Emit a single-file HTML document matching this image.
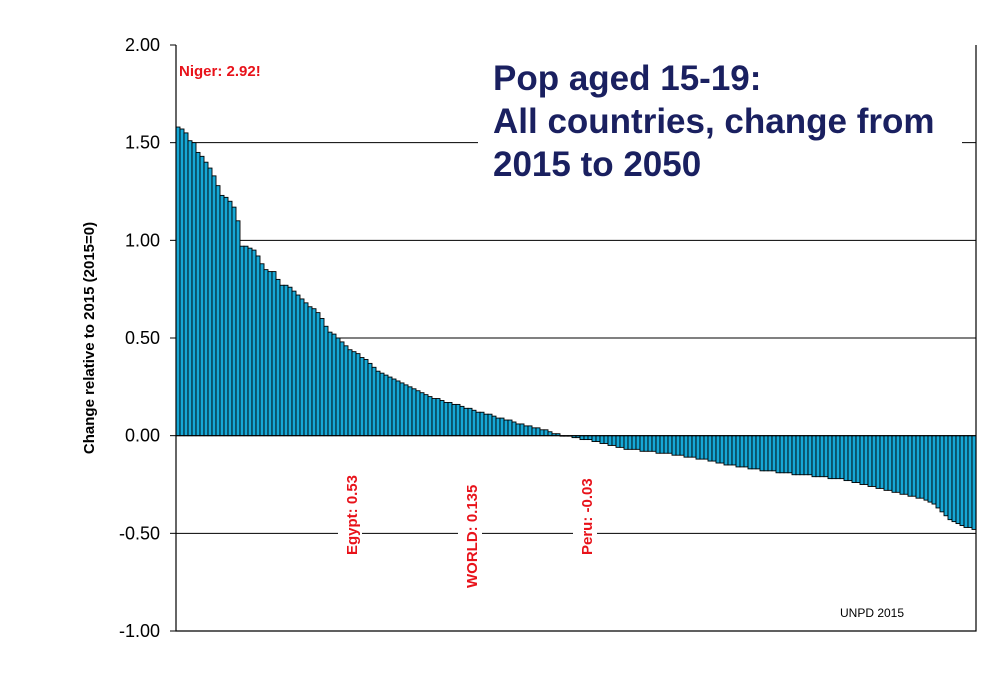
<!DOCTYPE html>
<html><head><meta charset="utf-8"><style>
body{margin:0;background:#fff;font-family:"Liberation Sans",sans-serif}
</style></head><body>
<svg width="1000" height="677" xmlns="http://www.w3.org/2000/svg">
<g id="grid"></g>
<g id="bars"></g>
<g id="axes"></g>
<g id="labels"></g>
</svg>
<script>
const values=[1.58,1.57,1.55,1.51,1.50,1.45,1.43,1.40,1.37,1.33,1.28,1.23,1.22,1.20,1.17,1.10,0.97,0.97,0.96,0.95,0.92,0.88,0.85,0.84,0.84,0.80,0.77,0.77,0.76,0.74,0.72,0.70,0.68,0.66,0.65,0.63,0.60,0.56,0.53,0.52,0.50,0.48,0.46,0.44,0.43,0.42,0.40,0.39,0.37,0.35,0.33,0.32,0.31,0.30,0.29,0.28,0.27,0.26,0.25,0.24,0.23,0.22,0.21,0.20,0.19,0.19,0.18,0.17,0.17,0.16,0.16,0.15,0.14,0.14,0.13,0.12,0.12,0.11,0.11,0.10,0.09,0.09,0.08,0.08,0.07,0.06,0.06,0.05,0.05,0.04,0.04,0.03,0.03,0.02,0.01,0.01,0.00,0.00,0.00,-0.01,-0.01,-0.02,-0.02,-0.02,-0.03,-0.03,-0.04,-0.04,-0.05,-0.05,-0.06,-0.06,-0.07,-0.07,-0.07,-0.07,-0.08,-0.08,-0.08,-0.08,-0.09,-0.09,-0.09,-0.09,-0.10,-0.10,-0.10,-0.11,-0.11,-0.11,-0.12,-0.12,-0.12,-0.13,-0.13,-0.14,-0.14,-0.15,-0.15,-0.15,-0.16,-0.16,-0.16,-0.17,-0.17,-0.17,-0.18,-0.18,-0.18,-0.18,-0.19,-0.19,-0.19,-0.19,-0.20,-0.20,-0.20,-0.20,-0.20,-0.21,-0.21,-0.21,-0.21,-0.22,-0.22,-0.22,-0.22,-0.23,-0.23,-0.24,-0.24,-0.25,-0.25,-0.26,-0.26,-0.27,-0.27,-0.28,-0.28,-0.29,-0.29,-0.30,-0.30,-0.31,-0.31,-0.32,-0.32,-0.33,-0.34,-0.35,-0.37,-0.39,-0.41,-0.43,-0.44,-0.45,-0.46,-0.47,-0.47,-0.48];
const yTicks=[2.00,1.50,1.00,0.50,0.00,-0.50,-1.00];
const gridLines=[1.5,1.0,0.5,-0.5];
const NS="http://www.w3.org/2000/svg";
const X0=176,X1=976,Y2=45,Ym1=631;
const y=v=>Y2+(2-v)*(Ym1-Y2)/3;
const bw=(X1-X0)/values.length;
const x=i=>X0+i*bw;
function mk(t,a,p){const e=document.createElementNS(NS,t);for(const k in a)e.setAttribute(k,a[k]);(p||document.querySelector('svg')).appendChild(e);return e;}
const G=document.getElementById('grid'),B=document.getElementById('bars'),A=document.getElementById('axes'),L=document.getElementById('labels');
gridLines.forEach(v=>{const l=mk('line',{x1:X0,x2:X1,y1:y(v),y2:y(v),stroke:'#000','stroke-width':1},G);

});
values.forEach((v,i)=>{const top=Math.min(y(v),y(0)),h=Math.abs(y(v)-y(0));
const r=mk('rect',{x:x(i),y:top,width:bw,height:Math.max(h,0.5),fill:'#16a8d6',stroke:'#000','stroke-width':0.9},B);

});
const z=mk('line',{x1:X0,x2:X1,y1:y(0),y2:y(0),stroke:'#000','stroke-width':1.2},A);


const fr=mk('path',{d:`M${X0},${Y2}V${Ym1}H${X1}V${Y2}`,fill:'none',stroke:'#000','stroke-width':1.2},A);


yTicks.forEach(v=>{const t=mk('line',{x1:X0-6,x2:X0,y1:y(v),y2:y(v),stroke:'#000'},A);


const tx=mk('text',{x:X0-16,y:y(v)+6,'text-anchor':'end','font-size':18,fill:'#000'},A);
tx.textContent=v.toFixed(2);

});
</script>
<script>
(function(){const L=document.getElementById('labels');
L.innerHTML=`
<text transform="translate(94,338) rotate(-90)" text-anchor="middle" font-size="15" font-weight="bold">Change relative to 2015 (2015=0)</text>
<rect x="478" y="56" width="484" height="132" fill="#fff"/>
<text font-size="35" font-weight="bold" fill="#1a2060"><tspan x="493" y="90">Pop aged 15-19:</tspan><tspan x="493" y="133">All countries, change from</tspan><tspan x="493" y="176">2015 to 2050</tspan></text>
<text x="179" y="76" font-size="15" font-weight="bold" fill="#e8121a">Niger: 2.92!</text>
<rect x="338" y="464" width="24" height="96" fill="#fff"/>
<text transform="translate(357,555) rotate(-90)" font-size="15" font-weight="bold" fill="#e8121a">Egypt: 0.53</text>
<rect x="458" y="464" width="24" height="126" fill="#fff"/>
<text transform="translate(477,588) rotate(-90)" font-size="15" font-weight="bold" fill="#e8121a">WORLD: 0.135</text>
<rect x="573" y="464" width="24" height="96" fill="#fff"/>
<text transform="translate(592,555) rotate(-90)" font-size="15" font-weight="bold" fill="#e8121a">Peru: -0.03</text>
<text x="840" y="617" font-size="12">UNPD 2015</text>`;})();
</script>
</body></html>
